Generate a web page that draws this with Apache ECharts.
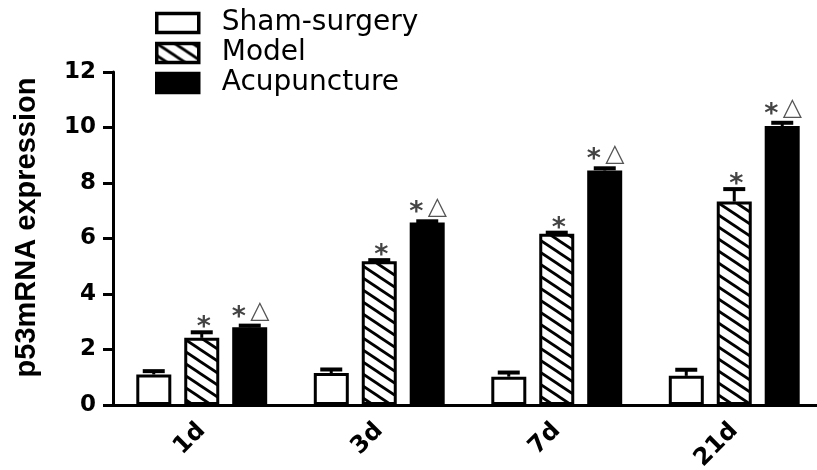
<!DOCTYPE html>
<html>
<head>
<meta charset="utf-8">
<script src="https://cdn.jsdelivr.net/npm/echarts@6/dist/echarts.min.js"></script>
<style>html,body{margin:0;padding:0;background:#fff;}#chart{width:817px;height:470px;}</style>
</head>
<body>
<div id="chart"></div>
<script>
const categories = ['1d', '3d', '7d', '21d'];
const seriesNames = ['Sham-surgery', 'Model', 'Acupuncture'];
const shamValues = [1.10, 1.15, 1.02, 1.05];
const shamErrors = [0.12, 0.13, 0.15, 0.22];
const modelValues = [2.42, 5.18, 6.17, 7.33];
const modelErrors = [0.20, 0.04, 0.04, 0.45];
const acuValues = [2.80, 6.58, 8.45, 10.05];
const acuErrors = [0.06, 0.04, 0.08, 0.12];
const modelMarks = ['*', '*', '*', '*'];
const acuMarks = ['*△', '*△', '*△', '*△'];
const yTicks = [0, 2, 4, 6, 8, 10, 12];

// hatch pattern
const pc = document.createElement('canvas');
pc.width = 18; pc.height = 12;
const ctx = pc.getContext('2d');
ctx.fillStyle = '#fff'; ctx.fillRect(0, 0, 18, 12);
ctx.strokeStyle = '#000'; ctx.lineWidth = 2.8;
for (let k = -1; k <= 1; k++) {
  ctx.beginPath();
  ctx.moveTo(-2, -2 * 12 / 18 + k * 12);
  ctx.lineTo(20, 20 * 12 / 18 + k * 12);
  ctx.stroke();
}
const hatch = { image: pc, repeat: 'repeat' };

const BAR_W = 35, OFFSET = 48;

function errSeries(vals, errs, marks, off) {
  return {
    type: 'custom',
    z: 10,
    data: vals.map((v, i) => [i, v, errs[i]]),
    renderItem: function (params, api) {
      const i = api.value(0), v = api.value(1), e = api.value(2);
      const mark = marks ? marks[i] : '';
      const p0 = api.coord([i, v]);
      const p1 = api.coord([i, v + e]);
      const x = p0[0] + off;
      const children = [
        { type: 'line', shape: { x1: x, y1: p0[1], x2: x, y2: p1[1] }, style: { stroke: '#000', lineWidth: 3 } },
        { type: 'line', shape: { x1: x - 11, y1: p1[1], x2: x + 11, y2: p1[1] }, style: { stroke: '#000', lineWidth: 4 } }
      ];
      const chars = Array.from(mark);
      const n = chars.length;
      chars.forEach((c, k) => {
        const cx = n === 1 ? x + 2 : x + (k === 0 ? -11 : 10);
        const isStar = c === '*';
        children.push({
          type: 'text',
          style: {
            text: c, x: cx, y: p1[1] - (n === 1 ? 10 : 14) + (isStar ? 6 : 0),
            textAlign: 'center', textVerticalAlign: 'middle',
            font: isStar ? 'bold 27px "DejaVu Sans"' : '25px "DejaVu Sans"',
            fill: isStar ? '#444' : '#555'
          }
        });
      });
      return { type: 'group', children: children };
    }
  };
}

const chart = echarts.init(document.getElementById('chart'), null, { renderer: 'canvas' });
chart.setOption({
  animation: false,
  backgroundColor: '#fff',
  grid: { left: 113, top: 72, width: 710, height: 333, containLabel: false, outerBoundsMode: 'none' },
  legend: {
    data: seriesNames,
    orient: 'vertical',
    left: 150, top: 4,
    itemWidth: 42, itemHeight: 19,
    itemGap: 2,
    icon: 'rect',
    itemStyle: { borderWidth: 3.5, borderColor: '#000' },
    textStyle: { fontFamily: 'DejaVu Sans', fontSize: 28, color: '#000', padding: [0, 0, 0, 18] }
  },
  xAxis: {
    type: 'category',
    data: categories,
    axisLine: { lineStyle: { color: '#000', width: 3 } },
    axisTick: { alignWithLabel: true, length: 10, lineStyle: { color: '#000', width: 3 } },
    axisLabel: { rotate: 45, margin: 22, fontFamily: 'DejaVu Sans', fontWeight: 'bold', fontSize: 24, color: '#000' }
  },
  yAxis: {
    type: 'value',
    min: yTicks[0], max: yTicks[yTicks.length - 1], interval: 2,
    name: 'p53mRNA expression',
    nameLocation: 'middle',
    nameGap: 72,
    nameTextStyle: { fontFamily: 'Liberation Sans', fontWeight: 'bold', fontSize: 29, color: '#000', padding: [0, 0, 0, 22] },
    axisLine: { show: true, lineStyle: { color: '#000', width: 3 } },
    axisTick: { show: true, length: 10, lineStyle: { color: '#000', width: 3 } },
    axisLabel: { margin: 17, fontFamily: 'DejaVu Sans', fontWeight: 'bold', fontSize: 23, color: '#000' },
    splitLine: { show: false }
  },
  series: [
    { name: seriesNames[0], type: 'bar', data: shamValues, barWidth: BAR_W, barGap: '37%',
      itemStyle: { color: '#fff', borderColor: '#000', borderWidth: 3 } },
    { name: seriesNames[1], type: 'bar', data: modelValues, barWidth: BAR_W, barGap: '37%',
      itemStyle: { color: hatch, borderColor: '#000', borderWidth: 3 } },
    { name: seriesNames[2], type: 'bar', data: acuValues, barWidth: BAR_W, barGap: '37%',
      itemStyle: { color: '#000', borderColor: '#000', borderWidth: 3 } },
    errSeries(shamValues, shamErrors, null, -OFFSET),
    errSeries(modelValues, modelErrors, modelMarks, 0),
    errSeries(acuValues, acuErrors, acuMarks, OFFSET)
  ]
});
</script>
</body>
</html>
